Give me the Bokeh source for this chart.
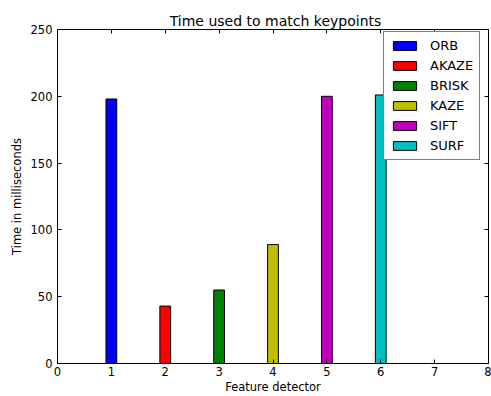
from bokeh.plotting import figure
from bokeh.models import ColumnDataSource, LinearAxis, Legend, LegendItem, Range1d, FixedTicker
from bokeh.embed import file_html
from bokeh.resources import INLINE

detectors = ["ORB", "AKAZE", "BRISK", "KAZE", "SIFT", "SURF"]
positions = [1, 2, 3, 4, 5, 6]
times_ms = [198, 43, 55, 89, 200, 201]
colors = ["#0000ff", "#ff0000", "#008000", "#bfbf00", "#bf00bf", "#00bfbf"]
x_ticks = [0, 1, 2, 3, 4, 5, 6, 7, 8]
y_ticks = [0, 50, 100, 150, 200, 250]

FONT = "DejaVu Sans"

p = figure(width=491, height=396, output_backend="svg", toolbar_location=None,
           x_range=Range1d(0, 8), y_range=Range1d(0, 250),
           min_border_left=57, min_border_right=3, min_border_top=29, min_border_bottom=33,
           title="Time used to match keypoints")
p.title.text_font = FONT
p.title.text_font_size = "14px"
p.title.text_font_style = "normal"
p.title.align = "center"
p.title.text_color = "#000000"
p.title.offset = 0
p.title.standoff = 2
p.title.padding = (5, 0, 0, 0)
p.xgrid.visible = False
p.ygrid.visible = False
p.outline_line_color = "#000000"
p.outline_line_width = 1
p.background_fill_color = "white"
p.border_fill_color = "white"

def style_axis(ax, show_labels=True):
    ax.major_tick_in = 4
    ax.major_tick_out = 0
    ax.minor_tick_line_color = None
    ax.axis_line_color = "#000000"
    ax.major_tick_line_color = "#000000"
    ax.major_label_text_font = FONT
    ax.major_label_text_font_size = "11.5px"
    ax.major_label_text_color = "#000000" if show_labels else None
    ax.axis_label_text_font = FONT
    ax.axis_label_text_font_size = "11.5px"
    ax.axis_label_text_font_style = "normal"
    ax.axis_label_text_color = "#000000"

p.xaxis.ticker = FixedTicker(ticks=x_ticks)
p.yaxis.ticker = FixedTicker(ticks=y_ticks)
p.xaxis.axis_label = "Feature detector"
p.yaxis.axis_label = "Time in milliseconds"
style_axis(p.xaxis[0])
style_axis(p.yaxis[0])
p.xaxis.major_label_standoff = 3
p.yaxis.major_label_standoff = 5
p.xaxis.axis_label_standoff = 1
p.yaxis.axis_label_standoff = 4

top_ax = LinearAxis(ticker=FixedTicker(ticks=x_ticks))
right_ax = LinearAxis(ticker=FixedTicker(ticks=y_ticks))
for ax in (top_ax, right_ax):
    style_axis(ax, show_labels=False)
    ax.major_label_text_font_size = "0px"
    ax.major_label_standoff = 0
p.add_layout(top_ax, "above")
p.add_layout(right_ax, "right")

items = []
for name, xpos, t, c in zip(detectors, positions, times_ms, colors):
    src = ColumnDataSource(dict(x=[xpos], top=[t]))
    r = p.vbar(x="x", top="top", bottom=0, width=0.2, source=src,
               fill_color=c, line_color="#000000", line_width=1)
    items.append(LegendItem(label=name, renderers=[r]))

legend = Legend(items=items, location=(326, 203), margin=0,
                padding=6, spacing=5, glyph_width=29, glyph_height=11,
                label_height=11, label_standoff=11,
                label_text_font=FONT, label_text_font_size="13px",
                label_text_color="#000000",
                border_line_color="#000000", border_line_width=1,
                background_fill_alpha=1.0)
p.add_layout(legend, "center")

open("out.html", "w").write(file_html(p, INLINE))
